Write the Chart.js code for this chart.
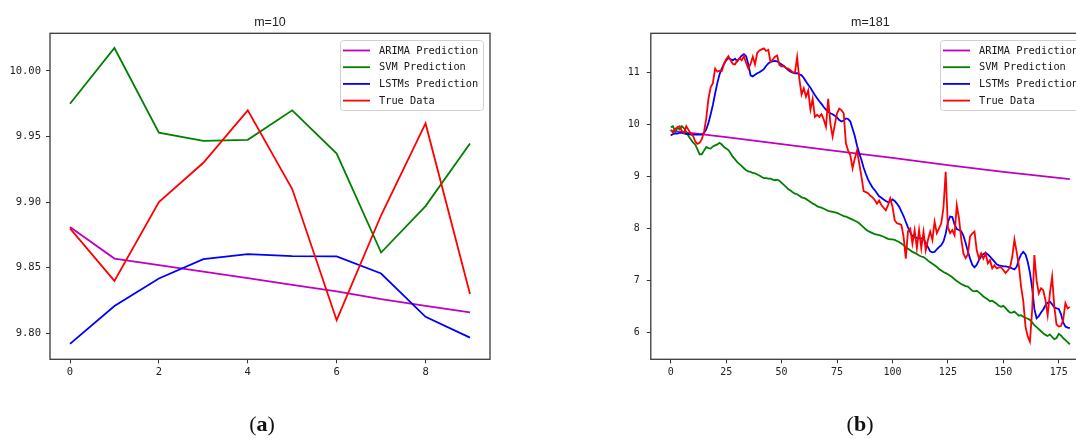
<!DOCTYPE html>
<html><head><meta charset="utf-8">
<script src="https://cdn.jsdelivr.net/npm/chart.js@4.4.0/dist/chart.umd.min.js"></script>
<style>
html,body{margin:0;padding:0;width:1076px;height:439px;overflow:hidden;background:#fff;}
#c1{position:absolute;left:0;top:0;}
#c2{position:absolute;left:536px;top:0;}
.cap{position:absolute;top:411px;font-family:'Liberation Serif','DejaVu Serif',serif;font-size:22px;line-height:26px;color:#111;transform:translateX(-50%);white-space:nowrap;}
</style></head><body>
<canvas id="c1" width="536" height="439"></canvas>
<canvas id="c2" width="600" height="439"></canvas>
<div class="cap" style="left:262px">(<b>a</b>)</div>
<div class="cap" style="left:860px">(<b>b</b>)</div>
<script>
const seriesNames = ['ARIMA Prediction','SVM Prediction','LSTMs Prediction','True Data'];
const seriesColors = ['#bf00bf','#008000','#0000ff','#ff0000'];

// ---- panel (a): m=10 ----
const aTitle = 'm=10';
const aArima = [9.881,9.857,9.852,9.847,9.842,9.837,9.832,9.826,9.821,9.816];
const aSvm   = [9.975,10.0175,9.953,9.9467,9.9475,9.970,9.937,9.8616,9.897,9.9447];
const aLstm  = [9.792,9.8208,9.8418,9.8566,9.8604,9.8589,9.8586,9.8456,9.8126,9.7967];
const aTrue  = [9.88,9.84,9.90,9.93,9.97,9.91,9.81,9.89,9.96,9.83];
const aXTicks = [0,2,4,6,8];
const aYTicks = [9.80,9.85,9.90,9.95,10.00];

// ---- panel (b): m=181 ----
const bTitle = 'm=181';
const bArimaX = [0,25,50,75,100,125,150,180];
const bArima  = [9.885,9.76,9.625,9.49,9.36,9.22,9.09,8.95];
const bSvm = [
9.95,9.97,9.86,9.94,9.91,9.97,9.93,9.86,9.78,9.72,
9.66,9.62,9.53,9.43,9.43,9.50,9.57,9.55,9.54,9.58,
9.60,9.62,9.65,9.62,9.57,9.54,9.51,9.45,9.38,9.33,
9.28,9.24,9.20,9.16,9.12,9.10,9.09,9.07,9.06,9.04,
9.02,8.99,8.97,8.97,8.96,8.96,8.94,8.93,8.94,8.92,
8.88,8.84,8.80,8.76,8.73,8.70,8.67,8.66,8.63,8.60,
8.59,8.57,8.54,8.51,8.48,8.46,8.43,8.41,8.40,8.38,
8.36,8.34,8.33,8.32,8.31,8.30,8.28,8.26,8.24,8.23,
8.21,8.19,8.17,8.15,8.13,8.10,8.06,8.02,7.98,7.95,
7.93,7.91,7.89,7.88,7.87,7.86,7.84,7.82,7.80,7.79,
7.79,7.78,7.76,7.74,7.71,7.68,7.64,7.61,7.58,7.55,
7.53,7.51,7.48,7.46,7.45,7.42,7.38,7.35,7.32,7.29,
7.26,7.22,7.19,7.16,7.14,7.12,7.09,7.06,7.02,6.99,
6.96,6.93,6.91,6.89,6.88,6.84,6.80,6.79,6.80,6.77,
6.73,6.69,6.66,6.63,6.60,6.61,6.58,6.55,6.51,6.49,
6.51,6.47,6.42,6.38,6.38,6.40,6.36,6.32,6.33,6.30,
6.28,6.26,6.24,6.19,6.14,6.10,6.06,6.02,5.98,5.95,
5.93,5.96,5.91,5.87,5.89,5.97,5.94,5.89,5.85,5.81,
5.77];
const bLstm = [
9.79,9.82,9.83,9.83,9.84,9.84,9.83,9.82,9.82,9.81,
9.81,9.81,9.81,9.81,9.81,9.84,9.91,10.03,10.20,10.38,
10.60,10.80,10.97,11.08,11.17,11.24,11.28,11.26,11.24,11.27,
11.22,11.28,11.33,11.36,11.32,11.16,10.95,10.93,10.96,10.99,
11.01,11.04,11.07,11.13,11.18,11.21,11.22,11.23,11.22,11.19,
11.16,11.13,11.09,11.05,11.02,11.00,10.99,10.99,10.97,10.95,
10.90,10.83,10.77,10.71,10.64,10.57,10.51,10.45,10.40,10.34,
10.29,10.25,10.22,10.20,10.17,10.14,10.09,10.06,10.08,10.12,
10.11,10.06,9.92,9.78,9.60,9.45,9.32,9.17,9.05,8.94,
8.86,8.79,8.74,8.68,8.62,8.59,8.56,8.53,8.51,8.52,
8.56,8.53,8.48,8.42,8.33,8.24,8.13,8.02,7.93,7.85,
7.83,7.82,7.81,7.81,7.80,7.72,7.64,7.56,7.54,7.55,
7.60,7.64,7.68,7.75,7.90,8.12,8.23,8.22,8.08,7.99,
7.97,7.95,7.86,7.72,7.56,7.42,7.30,7.25,7.30,7.39,
7.46,7.51,7.53,7.50,7.46,7.41,7.36,7.31,7.29,7.28,
7.27,7.27,7.26,7.25,7.23,7.21,7.26,7.40,7.50,7.55,
7.50,7.36,7.15,6.85,6.45,6.27,6.31,6.38,6.44,6.52,
6.57,6.59,6.54,6.48,6.46,6.45,6.35,6.19,6.11,6.09,
6.08];
const bTrue = [
9.90,9.85,9.92,9.95,9.97,9.88,9.84,9.97,9.90,9.83,
9.79,9.68,9.63,9.65,9.72,9.86,10.12,10.50,10.72,10.80,
11.08,11.02,11.04,11.03,11.17,11.26,11.32,11.24,11.17,11.16,
11.24,11.28,11.24,11.32,11.19,11.08,11.17,11.31,11.16,11.38,
11.43,11.45,11.47,11.42,11.44,11.21,11.25,11.31,11.33,11.15,
11.12,11.13,11.09,11.08,11.05,11.01,11.00,11.30,10.88,10.58,
10.70,10.54,10.66,10.29,10.50,10.15,10.19,10.15,10.20,10.10,
9.96,10.50,10.02,9.77,10.00,10.22,10.31,10.28,10.22,9.64,
9.50,9.41,9.16,9.35,9.50,9.26,9.00,8.72,8.70,8.68,
8.63,8.60,8.55,8.48,8.54,8.45,8.40,8.35,8.45,8.58,
8.42,8.16,8.10,8.09,8.07,7.85,7.42,7.95,8.00,7.71,
7.97,7.62,7.97,7.62,7.94,7.58,7.78,7.94,7.78,8.13,
7.91,8.00,8.10,8.40,9.09,8.02,7.91,7.97,7.87,8.45,
8.20,7.80,7.52,7.43,7.50,7.85,7.90,7.94,7.58,7.42,
7.52,7.42,7.52,7.33,7.39,7.23,7.29,7.23,7.25,7.25,
7.20,7.14,7.19,7.25,7.45,7.79,7.55,7.29,6.88,6.60,
6.11,5.92,5.82,6.43,7.49,7.00,6.75,6.85,6.81,6.62,
6.33,6.75,7.07,6.49,6.15,6.11,6.12,6.24,6.56,6.46,
6.49];
const bXTicks = [0,25,50,75,100,125,150,175];
const bYTicks = [6,7,8,9,10,11];

const pts = arr => arr.map((v,i)=>({x:i,y:v}));
const ptsXY = (xs,ys) => xs.map((x,i)=>({x:x,y:ys[i]}));

const MONO = '"DejaVu Sans Mono", "Liberation Mono", monospace';

function makeDatasets(arima, svm, lstm, tru){
  const list = [arima, svm, lstm, tru];
  return list.map((d,k)=>({
    label: seriesNames[k], data: d, borderColor: seriesColors[k], backgroundColor: seriesColors[k],
    borderWidth: 1.8, pointRadius: 0, tension: 0, fill: false, order: 4-k
  }));
}

const frameLegend = {
  id: 'frameLegend',
  afterDraw(chart){
    const ctx = chart.ctx, a = chart.chartArea;
    ctx.save();
    const w = 143, h = 70;
    const lx = Math.round(a.right - 7 - w), ly = Math.round(a.top + 7);
    ctx.beginPath();
    ctx.roundRect(lx + 0.5, ly + 0.5, w, h, 3);
    ctx.fillStyle = 'rgba(255,255,255,0.8)';
    ctx.fill();
    ctx.strokeStyle = '#d0d0d0';
    ctx.lineWidth = 1;
    ctx.stroke();
    ctx.font = '10.3px ' + MONO;
    ctx.textBaseline = 'middle';
    chart.data.datasets.forEach((ds, k) => {
      const y = ly + 10.5 + 16.7 * k;
      ctx.strokeStyle = ds.borderColor;
      ctx.lineWidth = 1.8;
      ctx.beginPath();
      ctx.moveTo(lx + 3, y);
      ctx.lineTo(lx + 30, y);
      ctx.stroke();
      ctx.fillStyle = '#151515';
      ctx.fillText(ds.label, lx + 39, y + 0.5);
    });
    ctx.strokeStyle = '#3a3a3a';
    ctx.lineWidth = 1.3;
    ctx.strokeRect(a.left, a.top, a.right - a.left, a.bottom - a.top);
    ctx.restore();
  }
};

function makeScales(cfg){
  const tickGrid = {display:true, drawOnChartArea:false, drawTicks:true, tickLength:4, color:'#333', lineWidth:1};
  return {
    x: {
      type:'linear', min:cfg.xmin, max:cfg.xmax,
      grid: tickGrid, border:{display:false},
      ticks:{font:{family:MONO, size:cfg.fs}, color:'#222', padding:3, maxRotation:0, autoSkip:false,
             callback: v => String(v)},
      afterBuildTicks: s => { s.ticks = cfg.xt.map(v => ({value:v})); },
      afterFit: s => { s.height = 30; }
    },
    y: {
      type:'linear', min:cfg.ymin, max:cfg.ymax,
      grid: tickGrid, border:{display:false},
      ticks:{font:{family:MONO, size:cfg.fs}, color:'#222', padding:cfg.ypad, autoSkip:false,
             callback: v => Number(v).toFixed(cfg.ydec)},
      afterBuildTicks: s => { s.ticks = cfg.yt.map(v => ({value:v})); },
      afterFit: s => { s.width = cfg.yw; }
    }
  };
}

function makeOptions(title, scales, rightPad){
  return {
    responsive:false, animation:false, devicePixelRatio:1, events:[],
    layout:{padding:{left:0, right:rightPad, top:0, bottom:49.7}},
    plugins:{
      legend:{display:false}, tooltip:{enabled:false},
      title:{display:true, text:title, fullSize:false, color:'#222',
             font:{family:'Liberation Sans', size:12.5, weight:'normal'},
             padding:{top:14.7, bottom:3.6}}
    },
    scales: scales
  };
}

new Chart(document.getElementById('c1'), {
  type:'line',
  data:{datasets: makeDatasets(pts(aArima), pts(aSvm), pts(aLstm), pts(aTrue))},
  options: makeOptions(aTitle, makeScales({xmin:-0.45, xmax:9.45, xt:aXTicks, ymin:9.7802, ymax:10.0287, yt:aYTicks, ydec:2, fs:10.5, ypad:5, yw:50}), 46),
  plugins:[frameLegend]
});

new Chart(document.getElementById('c2'), {
  type:'line',
  data:{datasets: makeDatasets(ptsXY(bArimaX, bArima), pts(bSvm), pts(bLstm), pts(bTrue))},
  options: makeOptions(bTitle, makeScales({xmin:-9, xmax:189, xt:bXTicks, ymin:5.48, ymax:11.76, yt:bYTicks, ydec:0, fs:10, ypad:7, yw:114.8}), 46.2),
  plugins:[frameLegend]
});
</script></body></html>
